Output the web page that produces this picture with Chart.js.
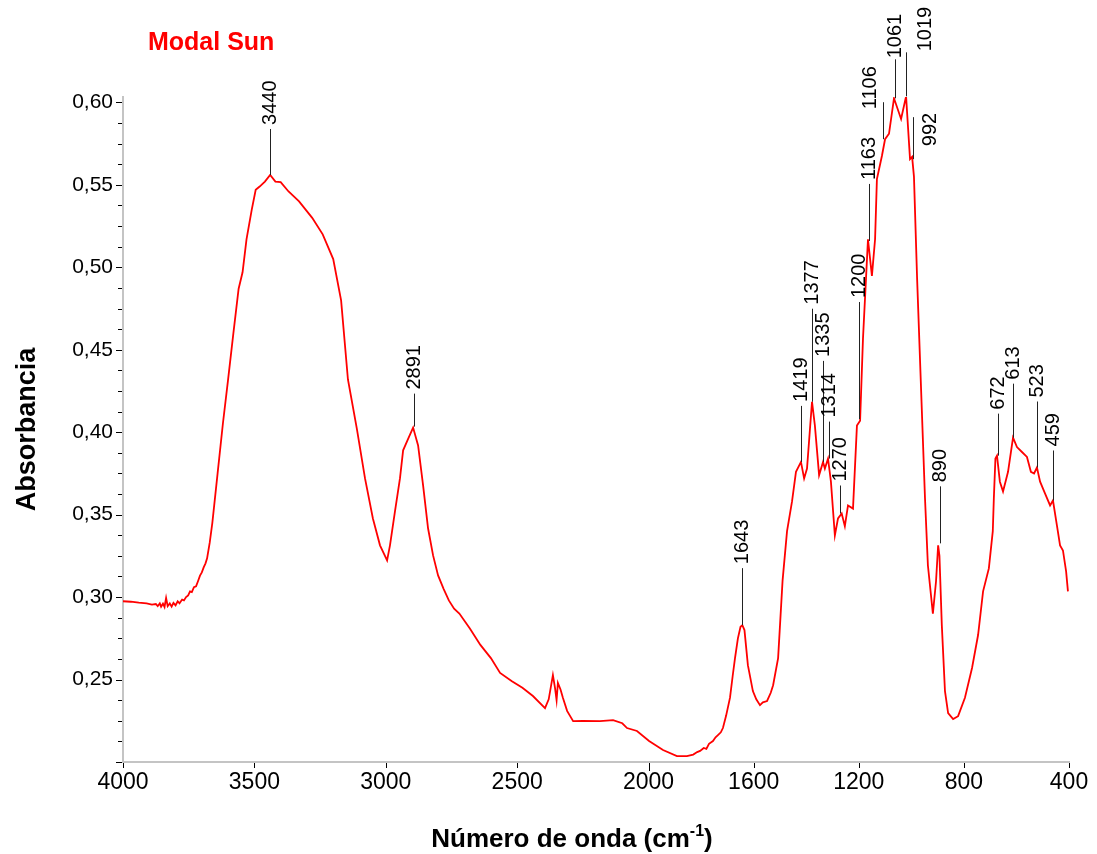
<!DOCTYPE html>
<html>
<head>
<meta charset="utf-8">
<script src="https://cdn.jsdelivr.net/npm/chart.js@4.4.0/dist/chart.umd.min.js"></script>
<style>
  html, body { margin: 0; padding: 0; background: #fff; }
  #wrap { width: 1097px; height: 854px; }
</style>
</head>
<body>
<div id="wrap"><canvas id="ftir"></canvas></div>
<script>
// spectrum (cm-1, absorbance)
const wavenumbers = [
  4000, 3970, 3940, 3910, 3890, 3875, 3868, 3860, 3855, 3848, 3842, 3836, 3830, 3822, 3815, 3808,
  3800, 3792, 3785, 3775, 3768, 3760, 3752, 3745, 3738, 3730, 3722, 3715, 3707, 3700, 3693, 3686,
  3680, 3670, 3660, 3640, 3620, 3600, 3580, 3560, 3545, 3530, 3510, 3495, 3480, 3460, 3440, 3420,
  3400, 3370, 3330, 3280, 3240, 3200, 3170, 3144, 3110, 3079, 3049, 3022, 2995, 2984, 2965, 2946,
  2934, 2915, 2896, 2877, 2858, 2839, 2820, 2801, 2780, 2760, 2740, 2720, 2680, 2640, 2600, 2565,
  2520, 2480, 2440, 2394, 2380, 2364, 2356, 2350, 2345, 2335, 2326, 2310, 2287, 2250, 2185, 2135,
  2100, 2082, 2044, 1998, 1945, 1892, 1854, 1830, 1815, 1804, 1790, 1780, 1770, 1755, 1745, 1735,
  1725, 1717, 1705, 1690, 1680, 1671, 1660, 1650, 1643, 1635, 1622, 1603, 1590, 1576, 1565, 1549,
  1535, 1526, 1507, 1490, 1473, 1454, 1439, 1420, 1408, 1397, 1378, 1367, 1351, 1336, 1329, 1317,
  1306, 1291, 1279, 1265, 1253, 1241, 1222, 1207, 1195, 1184, 1165, 1150, 1138, 1131, 1112, 1100,
  1085, 1066, 1039, 1020, 1005, 997, 990, 978, 948, 937, 918, 906, 898, 893, 884, 872,
  860, 841, 822, 796, 769, 746, 727, 705, 690, 686, 680, 674, 663, 651, 632, 613,
  598, 579, 560, 545, 533, 522, 510, 491, 472, 461, 446, 434, 423, 411, 404
];
const absorbance = [
  0.2975, 0.2972, 0.2966, 0.2962, 0.2955, 0.2958, 0.2945, 0.2962, 0.2942, 0.2960, 0.2940, 0.2995, 0.2945, 0.2962, 0.2942, 0.2965,
  0.2950, 0.2975, 0.2962, 0.2985, 0.2980, 0.3000, 0.3010, 0.3035, 0.3030, 0.3060, 0.3065, 0.3095, 0.3130, 0.3150, 0.3180, 0.3205,
  0.3235, 0.333, 0.345, 0.375, 0.405, 0.432, 0.460, 0.487, 0.497, 0.517, 0.535, 0.547, 0.549, 0.552, 0.556, 0.552,
  0.5517, 0.546, 0.540, 0.530, 0.520, 0.505, 0.480, 0.432, 0.402, 0.372, 0.3477, 0.3314, 0.3223, 0.3314, 0.352, 0.372,
  0.389, 0.396, 0.4028, 0.392, 0.3677, 0.3416, 0.3253, 0.3132, 0.305, 0.298, 0.293, 0.290, 0.281, 0.271, 0.263, 0.254,
  0.249, 0.245, 0.240, 0.2327, 0.238, 0.2527, 0.245, 0.2375, 0.248, 0.244, 0.239, 0.231, 0.2248, 0.2250, 0.2248, 0.2254,
  0.2235, 0.2206, 0.2188, 0.2127, 0.2073, 0.2036, 0.2036, 0.2045, 0.2060, 0.2067, 0.2085, 0.2080, 0.2110, 0.2127, 0.2150, 0.2165,
  0.2180, 0.2206, 0.2280, 0.239, 0.252, 0.263, 0.275, 0.282, 0.283, 0.280, 0.2587, 0.243, 0.238, 0.2345, 0.2362, 0.237,
  0.242, 0.2466, 0.263, 0.310, 0.340, 0.358, 0.376, 0.382, 0.372, 0.378, 0.4185, 0.404, 0.374, 0.382, 0.378, 0.384,
  0.370, 0.3374, 0.3477, 0.3507, 0.343, 0.3556, 0.3537, 0.404, 0.407, 0.4567, 0.517, 0.4948, 0.517, 0.5535, 0.5675, 0.5777,
  0.581, 0.6025, 0.590, 0.6037, 0.5656, 0.567, 0.555, 0.493, 0.360, 0.3193, 0.290, 0.3096, 0.3314, 0.325, 0.283, 0.243,
  0.2297, 0.226, 0.2278, 0.239, 0.257, 0.277, 0.3035, 0.3174, 0.340, 0.360, 0.384, 0.3858, 0.370, 0.364, 0.376, 0.3967,
  0.391, 0.388, 0.385, 0.376, 0.375, 0.3786, 0.370, 0.3628, 0.3556, 0.3586, 0.3435, 0.3314, 0.3283, 0.3156, 0.3035
];

const xTicks = [4000, 3500, 3000, 2500, 2000, 1600, 1200, 800, 400];
const yTicks = [0.25, 0.30, 0.35, 0.40, 0.45, 0.50, 0.55, 0.60];

// marked peaks and the absorbance where each leader line starts
const peakWavenumbers = [3440, 2891, 1643, 1419, 1377, 1335, 1314, 1270, 1200, 1163, 1106, 1061, 1019, 992, 890, 672, 613, 523, 459];
const peakAbs = [0.556, 0.4034, 0.283, 0.382, 0.4185, 0.382, 0.384, 0.3507, 0.408, 0.516, 0.5777, 0.6025, 0.6037, 0.5656, 0.3326, 0.3858, 0.3967, 0.3786, 0.3586];

// leader line length (px) and label offsets for the crowded ones
const leaderLen = [46, 33, 57, 56, 93, 101, 37, 28, 117, 57, 37, 39, 44, 42, 57, 42, 54, 66, 50];
const labelShift = { 1106: { dx: -13, dy: 11 }, 1019: { dx: 19, dy: 3 }, 992: { dx: 17, dy: 33 }, 1061: { dx: 0, dy: 3 } };

const FONT = "'Liberation Sans', Arial, sans-serif";

const decor = {
  id: "decor",
  afterDraw(chart) {
    const { ctx, chartArea, scales: { x, y } } = chart;
    ctx.save();

    // tick marks
    ctx.strokeStyle = "#000";
    ctx.lineWidth = 1;
    for (let v = 0.2; v <= 0.6001; v += 0.0125) {
      const py = Math.round(y.getPixelForValue(v)) + 0.5;
      const major = Math.abs(v * 20 - Math.round(v * 20)) < 1e-6;
      const len = major ? 6 : 4;
      ctx.beginPath();
      ctx.moveTo(chartArea.left - 1 - len, py);
      ctx.lineTo(chartArea.left - 1, py);
      ctx.stroke();
    }
    xTicks.forEach(v => {
      const px = Math.round(x.getPixelForValue(v)) + 0.5;
      const len = v === 2000 ? 8 : 5;
      ctx.beginPath();
      ctx.moveTo(px, chartArea.bottom + 1);
      ctx.lineTo(px, chartArea.bottom + 1 + len);
      ctx.stroke();
    });

    // peak labels
    ctx.font = "20px " + FONT;
    ctx.fillStyle = "#000";
    ctx.textAlign = "left";
    ctx.textBaseline = "middle";
    peakWavenumbers.forEach((w, i) => {
      const px = Math.round(x.getPixelForValue(w)) + 0.5;
      const bottom = y.getPixelForValue(peakAbs[i]);
      const top = bottom - leaderLen[i];
      ctx.strokeStyle = "#222";
      ctx.beginPath();
      ctx.moveTo(px, bottom);
      ctx.lineTo(px, top);
      ctx.stroke();
      const s = labelShift[w] || { dx: 0, dy: 0 };
      ctx.save();
      ctx.translate(px + s.dx, top - 4 + s.dy);
      ctx.rotate(-Math.PI / 2);
      ctx.fillText(String(w), 0, 0);
      ctx.restore();
    });

    // sample name
    ctx.font = "bold 25px " + FONT;
    ctx.fillStyle = "#ff0000";
    ctx.textBaseline = "alphabetic";
    ctx.fillText("Modal Sun", chartArea.left + 25, 50);

    // y title
    ctx.fillStyle = "#000";
    ctx.font = "bold 27px " + FONT;
    ctx.save();
    ctx.translate(35, (chartArea.top + chartArea.bottom) / 2);
    ctx.rotate(-Math.PI / 2);
    ctx.textAlign = "center";
    ctx.fillText("Absorbancia", 0, 0);
    ctx.restore();

    // x title with superscript
    const main = "Número de onda (cm";
    const sup = "-1";
    const tail = ")";
    ctx.font = "bold 26px " + FONT;
    const w1 = ctx.measureText(main).width;
    const w3 = ctx.measureText(tail).width;
    ctx.font = "bold 16px " + FONT;
    const w2 = ctx.measureText(sup).width;
    let sx = (chartArea.left + chartArea.right) / 2 - 24 - (w1 + w2 + w3) / 2;
    const base = 847;
    ctx.textAlign = "left";
    ctx.font = "bold 26px " + FONT;
    ctx.fillText(main, sx, base);
    ctx.font = "bold 16px " + FONT;
    ctx.fillText(sup, sx + w1, base - 11);
    ctx.font = "bold 26px " + FONT;
    ctx.fillText(tail, sx + w1 + w2, base);

    ctx.restore();
  }
};

new Chart(document.getElementById("ftir"), {
  type: "line",
  data: {
    datasets: [{
      data: wavenumbers.map((w, i) => ({ x: w, y: absorbance[i] })),
      borderColor: "#ff0000",
      borderWidth: 1.8,
      pointRadius: 0,
      tension: 0,
      fill: false
    }]
  },
  options: {
    responsive: true,
    maintainAspectRatio: false,
    animation: false,
    layout: { padding: { top: 97, right: 28, left: 0, bottom: 0 } },
    plugins: { legend: { display: false }, tooltip: { enabled: false } },
    scales: {
      x: {
        type: "linear",
        reverse: true,
        min: 400,
        max: 4000,
        afterBuildTicks: s => { s.ticks = xTicks.map(v => ({ value: v })); },
        afterFit: s => { s.height = 92; },
        ticks: {
          color: "#000",
          font: { family: FONT, size: 23 },
          padding: 7,
          maxRotation: 0,
          autoSkip: false,
          callback: v => String(v)
        },
        grid: { display: false, drawTicks: false },
        border: { color: "#c4c4c4", width: 2 }
      },
      y: {
        min: 0.2,
        max: 0.6033,
        afterBuildTicks: s => { s.ticks = yTicks.map(v => ({ value: v })); },
        afterFit: s => { s.width = 123; },
        ticks: {
          color: "#000",
          font: { family: FONT, size: 21 },
          padding: 10,
          callback: v => v.toFixed(2).replace(".", ",")
        },
        grid: { display: false, drawTicks: false },
        border: { color: "#c4c4c4", width: 2 }
      }
    }
  },
  plugins: [decor]
});
</script>
</body>
</html>
